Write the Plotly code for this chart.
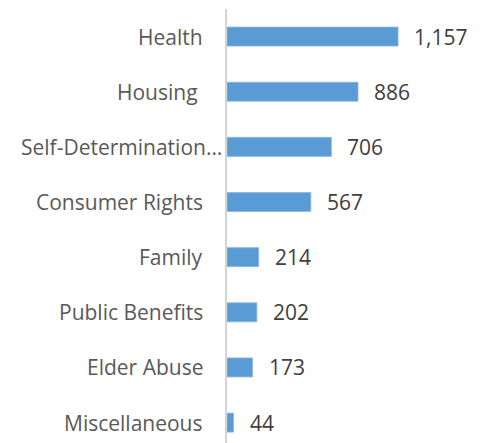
import plotly.graph_objects as go

categories = ["Health", "Housing\u00a0", "Self-Determination…", "Consumer Rights",
              "Family", "Public Benefits", "Elder Abuse", "Miscellaneous"]
values = [1157, 886, 706, 567, 214, 202, 173, 44]
value_labels = ["1,157", "886", "706", "567", "214", "202", "173", "44"]

FONT = "Open Sans"
FSIZE = 21

fig = go.Figure()
fig.add_trace(go.Bar(
    x=values, y=categories, orientation="h",
    marker=dict(color="#5b9bd5", line=dict(color="#8db8e3", width=0.8)),
    width=0.345, hoverinfo="skip",
))

# value labels
for v, c, t in zip(values, categories, value_labels):
    fig.add_annotation(x=v, y=c, text=t, showarrow=False, xanchor="left",
                       xshift=14, font=dict(family=FONT, size=FSIZE, color="#404040"))

# category labels (truncated label sits closer to the axis, as in the source)
for c in categories:
    shift = -3 if c.endswith("…") else -22
    fig.add_annotation(x=0, y=c, text=c, showarrow=False, xanchor="right",
                       xshift=shift, font=dict(family=FONT, size=FSIZE, color="#595959"))

# page body has an 8px default margin; compensate so the chart sits like the source
fig.update_layout(
    width=477, height=435,
    margin=dict(l=218.5, r=51, t=1.4, b=0),
    plot_bgcolor="white", paper_bgcolor="white",
    showlegend=False,
    xaxis=dict(range=[0, 1400], showgrid=False, zeroline=False, showticklabels=False,
               showline=False, fixedrange=True, automargin=False),
    yaxis=dict(categoryorder="array", categoryarray=categories,
               range=[7.37, -0.5], showgrid=False, zeroline=False,
               showline=True, linecolor="#d4d4d4", linewidth=2,
               ticks="", showticklabels=False, automargin=False, fixedrange=True),
)

fig.write_html("out.html")
